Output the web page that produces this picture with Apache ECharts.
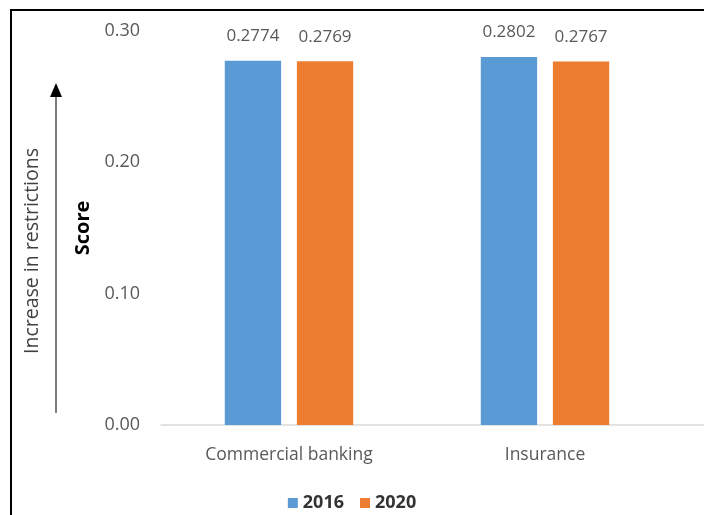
<!DOCTYPE html>
<html>
<head>
<meta charset="utf-8">
<style>
  html, body { margin: 0; padding: 0; background: #fff; }
  #chart { width: 704px; height: 515px; }
</style>
<script src="https://cdn.jsdelivr.net/npm/echarts@6/dist/echarts.min.js"></script>
</head>
<body>
<div id="chart"></div>
<script>
// Sector scores by year
const categories = ['Commercial banking', 'Insurance'];
const seriesNames = ['2016', '2020'];
const scores2016 = [0.2774, 0.2802];
const scores2020 = [0.2769, 0.2767];
const yTicks = { min: 0, max: 0.30, interval: 0.10 };

const FONT = '"Open Sans", "Noto Sans", sans-serif';
const GREY = '#595959';

const chart = echarts.init(document.getElementById('chart'), null, { renderer: 'canvas' });

const barLabel = {
  show: true,
  position: 'top',
  distance: 16,
  color: GREY,
  fontFamily: FONT,
  fontSize: 17,
  formatter: p => p.value.toFixed(4)
};

chart.setOption({
  animation: false,
  backgroundColor: '#fff',
  textStyle: { fontFamily: FONT },
  grid: { left: 161, right: 31, top: 31, bottom: 90 },
  legend: {
    data: seriesNames,
    top: 489,
    left: 'center',
    itemWidth: 10,
    itemHeight: 10,
    itemGap: 16,
    icon: 'rect',
    textStyle: { color: '#333', fontWeight: 'bold', fontSize: 18, fontFamily: FONT }
  },
  xAxis: {
    type: 'category',
    data: categories,
    axisLine: { lineStyle: { color: '#d9d9d9', width: 1.5 } },
    axisTick: { show: false },
    axisLabel: { color: GREY, fontSize: 17.5, margin: 21, fontFamily: FONT }
  },
  yAxis: {
    type: 'value',
    min: yTicks.min,
    max: yTicks.max,
    interval: yTicks.interval,
    name: 'Score',
    nameLocation: 'middle',
    nameRotate: 90,
    nameGap: 67,
    nameTextStyle: { color: '#000', fontWeight: 'bold', fontSize: 20, fontFamily: FONT },
    axisLine: { show: false },
    axisTick: { show: false },
    splitLine: { show: false },
    axisLabel: { color: GREY, fontSize: 18, margin: 21, fontFamily: FONT, formatter: v => v.toFixed(2) }
  },
  series: [
    {
      name: seriesNames[0],
      type: 'bar',
      data: scores2016,
      barWidth: '22%',
      barGap: '28%',
      itemStyle: { color: '#5B9BD5' },
      label: barLabel
    },
    {
      name: seriesNames[1],
      type: 'bar',
      data: scores2020,
      barWidth: '22%',
      barGap: '28%',
      itemStyle: { color: '#ED7D31' },
      label: barLabel
    }
  ],
  graphic: [
    // frame around the figure
    {
      type: 'rect',
      shape: { x: 11, y: 10, width: 720, height: 540 },
      style: { fill: 'none', stroke: '#000', lineWidth: 2 },
      silent: true
    },
    // baseline continues to the right edge
    {
      type: 'line',
      shape: { x1: 673, y1: 425, x2: 704, y2: 425 },
      style: { stroke: '#d9d9d9', lineWidth: 1.5 },
      silent: true
    },
    // direction arrow
    {
      type: 'line',
      shape: { x1: 56, y1: 413, x2: 56, y2: 95 },
      style: { stroke: '#7f7f7f', lineWidth: 2 },
      silent: true
    },
    {
      type: 'polygon',
      shape: { points: [[56, 83], [50, 97], [62, 97]] },
      style: { fill: '#000' },
      silent: true
    },
    {
      type: 'text',
      x: 32,
      y: 251,
      rotation: Math.PI / 2,
      style: {
        text: 'Increase in restrictions',
        fill: '#404040',
        font: '19.5px ' + FONT,
        align: 'center',
        verticalAlign: 'middle'
      },
      silent: true
    }
  ]
});
</script>
</body>
</html>
